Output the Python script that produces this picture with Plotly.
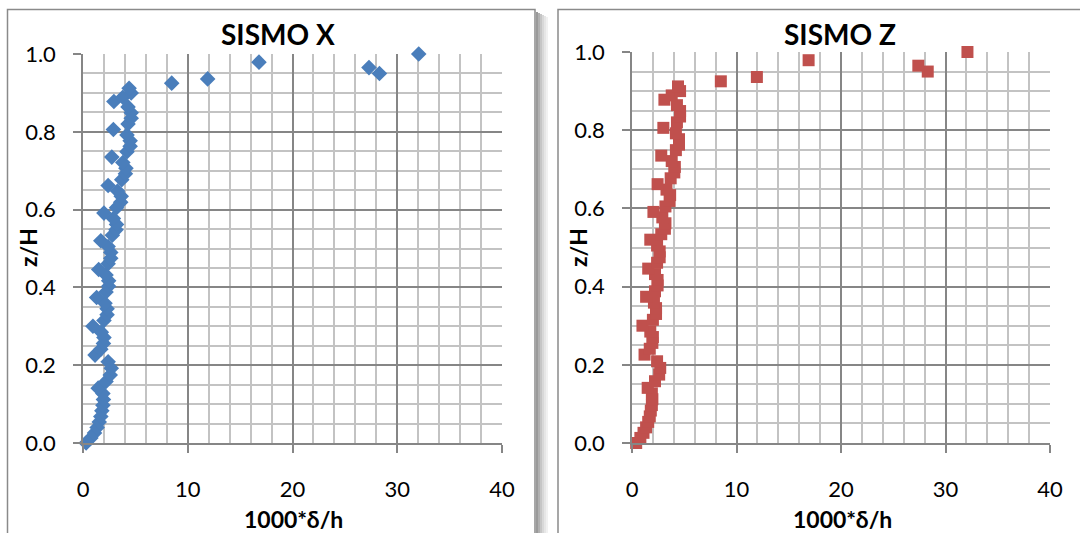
import plotly.graph_objects as go

# ---- data ----
z_sismo_x = [0.000, 0.013, 0.026, 0.040, 0.054, 0.068, 0.083, 0.097, 0.112, 0.127,
             0.141, 0.158, 0.175, 0.192, 0.209,
             0.226, 0.241, 0.256, 0.271, 0.285,
             0.300, 0.315, 0.330, 0.345, 0.359,
             0.374, 0.388, 0.403, 0.417, 0.432,
             0.446, 0.461, 0.475, 0.490, 0.505,
             0.520, 0.534, 0.548, 0.562, 0.577,
             0.591, 0.605, 0.619, 0.634, 0.648,
             0.662, 0.677, 0.692, 0.706, 0.721,
             0.735, 0.749, 0.763, 0.777, 0.792,
             0.806, 0.820, 0.835, 0.849, 0.864,
             0.878, 0.889, 0.900, 0.912,
             0.925, 0.936, 0.950, 0.965, 0.979, 1.000]
d_sismo_x = [0.30, 0.75, 1.10, 1.35, 1.55, 1.70, 1.80, 1.90, 1.95, 1.90,
             1.45, 2.20, 2.60, 2.70, 2.40,
             1.15, 1.70, 1.95, 2.00, 1.75,
             0.95, 2.00, 2.30, 2.30, 2.10,
             1.30, 2.20, 2.45, 2.45, 2.20,
             1.50, 2.40, 2.65, 2.65, 2.40,
             1.70, 2.80, 3.15, 3.20, 2.90,
             2.00, 3.20, 3.60, 3.65, 3.30,
             2.40, 3.70, 4.05, 4.10, 3.80,
             2.75, 4.20, 4.50, 4.50, 4.20,
             2.90, 4.30, 4.60, 4.60, 4.30,
             2.95, 3.80, 4.60, 4.40,
             8.47, 11.90, 28.30, 27.30, 16.80, 32.05]

z_sismo_z = list(z_sismo_x)
d_sismo_z = [0.40, 0.80, 1.10, 1.35, 1.55, 1.70, 1.80, 1.90, 1.95, 1.90,
             1.50, 2.20, 2.60, 2.70, 2.40,
             1.20, 1.70, 1.95, 2.00, 1.75,
             1.00, 2.00, 2.30, 2.30, 2.10,
             1.35, 2.20, 2.45, 2.45, 2.20,
             1.55, 2.40, 2.65, 2.65, 2.40,
             1.75, 2.80, 3.15, 3.20, 2.90,
             2.05, 3.20, 3.60, 3.65, 3.30,
             2.45, 3.70, 4.05, 4.10, 3.80,
             2.80, 4.20, 4.50, 4.50, 4.20,
             3.00, 4.30, 4.60, 4.60, 4.30,
             3.10, 3.80, 4.60, 4.40,
             8.50, 11.95, 28.30, 27.40, 16.90, 32.10]

titles = ["SISMO X", "SISMO Z"]
x_title = "1000*δ/h"
y_title = "z/H"
x_ticks = [0, 10, 20, 30, 40]
y_ticks = [0.0, 0.2, 0.4, 0.6, 0.8, 1.0]

W, H = 1080, 533
FONT = "Lato"
MAJ = "#868686"
MIN = "#C3C3C3"


def px_x(p):
    return p / W


def px_y(p):
    return (H - p) / H


fig = go.Figure()
fig.add_trace(go.Scatter(x=d_sismo_x, y=z_sismo_x, mode="markers", xaxis="x", yaxis="y",
                         marker=dict(symbol="diamond", size=12, color="#4A7EBB"),
                         cliponaxis=False, showlegend=False))
fig.add_trace(go.Scatter(x=d_sismo_z, y=z_sismo_z, mode="markers", xaxis="x2", yaxis="y2",
                         marker=dict(symbol="square", size=12, color="#C0504D"),
                         cliponaxis=False, showlegend=False))


def xax(domain, anchor):
    return dict(domain=domain, anchor=anchor, range=[0, 40], tickvals=x_ticks,
                automargin=False,
                showgrid=True, gridcolor=MAJ, gridwidth=1.5,
                minor=dict(dtick=2, tick0=0, showgrid=True, gridcolor=MIN, gridwidth=1.5, ticks=""),
                showline=True, linecolor=MAJ, linewidth=1.5,
                ticks="outside", ticklen=8, tickcolor=MAJ, tickwidth=1.5,
                ticklabelstandoff=18, zeroline=False,
                tickfont=dict(family=FONT, size=22, color="#000"), fixedrange=True)


def yax(domain, anchor):
    return dict(domain=domain, anchor=anchor, range=[0, 1], tickvals=y_ticks, tickformat=".1f",
                automargin=False,
                showgrid=True, gridcolor=MAJ, gridwidth=1.5,
                minor=dict(dtick=0.05, tick0=0, showgrid=True, gridcolor=MIN, gridwidth=1.5, ticks=""),
                showline=True, linecolor=MAJ, linewidth=1.5,
                ticks="outside", ticklen=8, tickcolor=MAJ, tickwidth=1.5,
                ticklabelstandoff=13, zeroline=False,
                tickfont=dict(family=FONT, size=22, color="#000"), fixedrange=True)


fig.update_layout(
    width=W, height=H, margin=dict(l=0, r=0, t=0, b=0, autoexpand=False),
    paper_bgcolor="white", plot_bgcolor="white",
    xaxis=xax([px_x(83), px_x(502)], "y"),
    yaxis=yax([px_y(443), px_y(54)], "x"),
    xaxis2=xax([px_x(632), px_x(1050)], "y2"),
    yaxis2=yax([px_y(443), px_y(52)], "x2"),
)

# chart-area frames with a soft shadow
shapes = []
for i, c in enumerate(["#9a9a9a", "#b0b0b0", "#c6c6c6", "#d8d8d8", "#e6e6e6", "#f1f1f1"]):
    shapes.append(dict(type="rect", xref="paper", yref="paper",
                       x0=px_x(536 + i * 2), x1=px_x(538 + i * 2), y0=-0.1, y1=px_y(12 + i),
                       line=dict(width=0), fillcolor=c, layer="below"))
shapes.append(dict(type="rect", xref="paper", yref="paper", x0=px_x(7.5), x1=px_x(535),
                   y0=-0.1, y1=px_y(9.5), line=dict(color="#8a8a8a", width=1.5), layer="below"))
shapes.append(dict(type="rect", xref="paper", yref="paper", x0=px_x(558), x1=px_x(1090),
                   y0=-0.1, y1=px_y(9.5), line=dict(color="#8a8a8a", width=1.5), layer="below"))
fig.update_layout(shapes=shapes)

ann = []
for cx, t in zip([278, 840], titles):
    ann.append(dict(text="<b>%s</b>" % t, x=px_x(cx), y=px_y(34), xref="paper", yref="paper",
                    showarrow=False, xanchor="center", yanchor="middle",
                    font=dict(family=FONT, size=28, color="#000")))
for cx in [293, 842]:
    ann.append(dict(text="<b>%s</b>" % x_title, x=px_x(cx), y=px_y(519), xref="paper", yref="paper",
                    showarrow=False, xanchor="center", yanchor="middle",
                    font=dict(family=FONT, size=23, color="#000")))
for cx in [28, 578]:
    ann.append(dict(text="<b>%s</b>" % y_title, x=px_x(cx), y=px_y(248), xref="paper", yref="paper",
                    showarrow=False, xanchor="center", yanchor="middle", textangle=-90,
                    font=dict(family=FONT, size=23, color="#000")))
fig.update_layout(annotations=ann)

fig.write_html("out.html", config={"displayModeBar": False},
               post_script="document.body.style.margin='0px';document.body.style.overflow='hidden';")
